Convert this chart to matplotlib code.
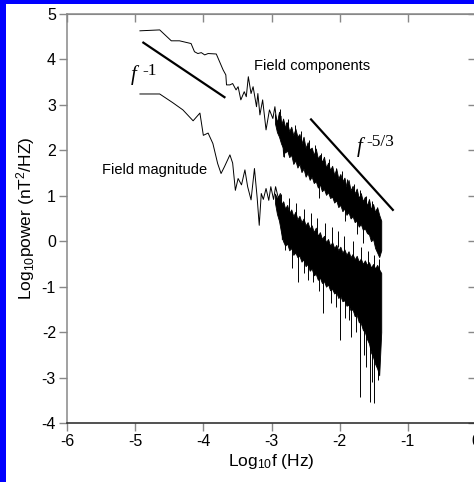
import numpy as np
import matplotlib.pyplot as plt
from matplotlib.patches import Rectangle

plt.rcParams['font.family'] = ['Liberation Sans', 'DejaVu Sans']
plt.rcParams['mathtext.fontset'] = 'custom'
plt.rcParams['mathtext.rm'] = 'Liberation Sans'
plt.rcParams['mathtext.it'] = 'Liberation Sans:italic'
plt.rcParams['axes.unicode_minus'] = False

# field components, low-frequency trace (log10 f, log10 power)
comp_x = [-4.93, -4.64, -4.47, -4.35, -4.18, -4.13, -4.08, -4.03, -3.98, -3.93,
          -3.81, -3.71, -3.67, -3.66, -3.61, -3.57, -3.52, -3.49, -3.45, -3.40,
          -3.37, -3.34, -3.30, -3.27, -3.22, -3.20, -3.17, -3.13, -3.08, -3.03,
          -2.98, -2.95, -2.91, -2.86, -2.82, -2.78]
comp_y = [4.63, 4.65, 4.41, 4.41, 4.35, 4.17, 4.13, 4.15, 4.10, 4.13,
          4.12, 3.77, 3.66, 3.44, 3.44, 3.47, 3.33, 3.40, 3.11, 3.29,
          3.18, 3.62, 3.25, 3.40, 2.96, 3.25, 2.78, 3.11, 2.45, 2.89,
          2.70, 2.96, 2.45, 2.75, 1.86, 2.60]

# field magnitude, low-frequency trace
mag_x = [-4.93, -4.64, -4.45, -4.30, -4.15, -4.05, -4.00, -3.93, -3.86, -3.79,
         -3.74, -3.69, -3.61, -3.57, -3.53, -3.49, -3.44, -3.39, -3.35, -3.30,
         -3.25, -3.21, -3.18, -3.15, -3.12, -3.08, -3.04, -3.01, -2.97, -2.94,
         -2.90, -2.87, -2.84, -2.82]
mag_y = [3.24, 3.24, 3.05, 2.89, 2.65, 2.82, 2.33, 2.38, 2.15, 1.71,
         1.49, 1.64, 1.90, 1.72, 1.12, 1.38, 1.24, 1.57, 1.20, 0.91,
         1.60, 0.95, 0.35, 1.05, 0.92, 1.16, 0.90, 1.20, 0.92, 1.20,
         0.95, 1.05, 0.03, 0.85]

# high-frequency part: dense noise bands, upper / lower envelopes
band_x = [-2.95, -2.92, -2.89, -2.86, -2.83, -2.80, -2.77, -2.74, -2.71, -2.68,
          -2.65, -2.62, -2.59, -2.56, -2.53, -2.50, -2.47, -2.44, -2.41, -2.38,
          -2.35, -2.32, -2.29, -2.26, -2.23, -2.20, -2.17, -2.14, -2.11, -2.08,
          -2.05, -2.02, -1.99, -1.96, -1.93, -1.90, -1.87, -1.84, -1.81, -1.78,
          -1.75, -1.72, -1.69, -1.66, -1.63, -1.60, -1.57, -1.54, -1.51, -1.48,
          -1.45, -1.42, -1.39]
comp_top = [2.80, 2.62, 2.85, 2.55, 2.70, 2.50, 2.62, 2.42, 2.52, 2.33,
            2.48, 2.30, 2.36, 2.15, 2.30, 2.05, 2.18, 2.02, 2.06, 1.90,
            2.04, 1.82, 1.90, 1.74, 1.86, 1.62, 1.73, 1.57, 1.66, 1.46,
            1.60, 1.38, 1.48, 1.32, 1.40, 1.20, 1.35, 1.12, 1.22, 1.05,
            1.16, 0.95, 1.06, 0.88, 0.98, 0.78, 0.93, 0.70, 0.82, 0.64,
            0.75, 0.58, 0.45]
comp_bot = [2.60, 2.40, 2.30, 2.15, 2.05, 1.95, 2.00, 1.85, 1.90, 1.70,
            1.78, 1.62, 1.70, 1.52, 1.60, 1.42, 1.50, 1.35, 1.42, 1.28,
            1.32, 1.18, 1.25, 1.10, 1.15, 1.02, 1.08, 0.95, 0.98, 0.85,
            0.90, 0.75, 0.80, 0.66, 0.72, 0.58, 0.64, 0.50, 0.55, 0.42,
            0.45, 0.32, 0.38, 0.25, 0.28, 0.18, 0.15, 0.00, 0.05, -0.15,
            -0.25, -0.35, -0.20]
mag_top = [1.05, 0.95, 1.00, 0.80, 0.88, 0.72, 0.80, 0.62, 0.70, 0.55,
           0.65, 0.48, 0.56, 0.42, 0.50, 0.35, 0.42, 0.28, 0.35, 0.20,
           0.30, 0.12, 0.20, 0.05, 0.12, -0.02, 0.05, -0.10, -0.02, -0.15,
           -0.08, -0.20, -0.12, -0.25, -0.18, -0.30, -0.22, -0.35, -0.28, -0.40,
           -0.32, -0.45, -0.38, -0.50, -0.42, -0.52, -0.46, -0.58, -0.50, -0.60,
           -0.52, -0.62, -0.70]
mag_bot = [0.85, 0.60, 0.45, 0.20, 0.00, -0.10, -0.05, -0.20, -0.15, -0.30,
           -0.25, -0.35, -0.32, -0.45, -0.40, -0.55, -0.50, -0.65, -0.60, -0.75,
           -0.72, -0.85, -0.80, -0.92, -0.88, -1.00, -0.95, -1.08, -1.05, -1.15,
           -1.12, -1.25, -1.20, -1.32, -1.30, -1.42, -1.40, -1.52, -1.50, -1.65,
           -1.62, -1.78, -1.80, -1.95, -2.00, -2.15, -2.25, -2.45, -2.55, -2.70,
           -2.80, -2.95, -2.00]

# single spikes sticking out of the bands (x, tip, base)
comp_spike_x = [-2.82, -2.61, -2.40, -2.30, -2.20, -2.02, -1.92, -1.75, -1.66,
                -2.88, -2.76, -2.66, -2.57, -2.45, -2.36, -2.27, -2.15, -2.06,
                -1.97, -1.89, -1.79, -1.70, -1.62, -1.53, -1.46]
comp_spike_tip = [1.86, 1.80, 1.64, 0.95, 1.15, 0.85, 0.45, 0.15, -0.05,
                  2.90, 2.68, 2.55, 2.42, 2.22, 2.12, 1.95, 1.80, 1.62,
                  1.55, 1.38, 1.25, 1.12, 1.00, 0.88, 0.72]
comp_spike_base = [2.40, 2.20, 2.00, 1.40, 1.60, 1.30, 0.90, 0.60, 0.40,
                   2.50, 2.30, 2.20, 2.05, 1.85, 1.75, 1.60, 1.45, 1.25,
                   1.20, 1.00, 0.90, 0.75, 0.65, 0.50, 0.35]
mag_spike_x = [-2.80, -2.70, -2.61, -2.53, -2.46, -2.39, -2.31, -2.25, -2.13,
               -2.05, -1.99, -1.92, -1.86, -1.83, -1.76, -1.70, -1.65, -1.61,
               -1.56, -1.52, -1.49, -1.44,
               -2.86, -2.75, -2.64, -2.52, -2.42, -2.33, -2.22, -2.11, -2.02,
               -1.93, -1.80, -1.68, -1.58, -1.50, -1.43]
mag_spike_tip = [-0.19, -0.60, -0.89, -0.70, -0.85, -0.89, -1.10, -1.59, -1.37,
                 -1.45, -2.17, -1.70, -1.73, -2.10, -2.00, -3.42, -2.50, -2.76,
                 -3.53, -3.10, -3.57, -3.05,
                 1.05, 0.95, 0.85, 0.72, 0.62, 0.52, 0.40, 0.32, 0.22,
                 0.12, 0.00, -0.12, -0.22, -0.30, -0.40]
mag_spike_base = [0.50, 0.00, -0.20, -0.20, -0.40, -0.50, -0.60, -0.70, -0.80,
                  -0.90, -1.00, -1.10, -1.20, -1.30, -1.40, -1.60, -1.70, -1.90,
                  -2.00, -2.30, -2.40, -2.80,
                  0.70, 0.60, 0.50, 0.37, 0.27, 0.17, 0.05, -0.03, -0.13,
                  -0.23, -0.35, -0.47, -0.57, -0.65, -0.75]

# reference slopes
slope1_x = [-4.88, -3.69]
slope1_y = [4.37, 3.17]
slope53_x = [-2.42, -1.22]
slope53_y = [2.68, 0.69]

fig = plt.figure(figsize=(4.74, 4.82), dpi=100)
fig.patch.set_facecolor('white')
fig.patches.append(Rectangle((0, 0), 6 / 474, 1, transform=fig.transFigure,
                             facecolor='#0000ff', edgecolor='none', zorder=10))
fig.patches.append(Rectangle((0, 1 - 4 / 482), 1, 4 / 482, transform=fig.transFigure,
                             facecolor='#0000ff', edgecolor='none', zorder=10))

ax = fig.add_axes([67 / 474, 1 - 423 / 482, 409 / 474, 409 / 482])

# traces
ax.plot(comp_x, comp_y, color='black', lw=0.7)
ax.plot(mag_x, mag_y, color='black', lw=0.7)
ax.fill_between(band_x, comp_bot, comp_top, facecolor='black', lw=0.6, edgecolor='black')
ax.fill_between(band_x, mag_bot, mag_top, facecolor='black', lw=0.6, edgecolor='black')
ax.vlines(comp_spike_x, comp_spike_tip, comp_spike_base, color='black', lw=0.7)
ax.vlines(mag_spike_x, mag_spike_tip, mag_spike_base, color='black', lw=0.7)

ax.plot(slope1_x, slope1_y, color='black', lw=1.6)
ax.plot(slope53_x, slope53_y, color='black', lw=1.6)

serif = ['Liberation Serif', 'DejaVu Serif']
ax.text(-5.06, 3.55, 'f', family=serif, style='italic', fontsize=15, va='baseline')
ax.text(-4.89, 3.66, '-1', family=serif, fontsize=12.5, va='baseline')
ax.text(-1.75, 1.96, 'f', family=serif, style='italic', fontsize=15, va='baseline')
ax.text(-1.61, 2.10, '-5/3', family=serif, fontsize=12.5, va='baseline')

ax.text(-3.25, 3.86, 'Field components', fontsize=10.5, va='center')
ax.text(-5.49, 1.57, 'Field magnitude', fontsize=10.5, va='center')

ax.set_xlim(-6, 0)
ax.set_ylim(-4, 5)
ax.set_xticks(range(-6, 1))
ax.set_yticks(range(-4, 6))
ax.tick_params(direction='out', length=6, width=1, color='#888888',
               labelsize=11.5, pad=2)
for side in ['left', 'top', 'right']:
    ax.spines[side].set_color('#888888')
ax.spines['bottom'].set_color('#222222')
for side in ax.spines:
    ax.spines[side].set_linewidth(1.1)

top = ax.secondary_xaxis('top')
top.set_xticks(range(-6, 1))
top.tick_params(direction='in', length=6, width=1, color='#888888', labeltop=False)
top.spines['top'].set_color('#888888')
right = ax.secondary_yaxis('right')
right.set_yticks(range(-4, 6))
right.tick_params(direction='in', length=6, width=1, color='#888888', labelright=False)
right.spines['right'].set_color('#888888')

ax.set_xlabel('Log$_{10}$f (Hz)', fontsize=12.5, labelpad=2)
ax.set_ylabel('Log$_{10}$power (nT$^{2}$/HZ)', fontsize=12.5, labelpad=3)

fig.savefig('out.png', dpi=100)
